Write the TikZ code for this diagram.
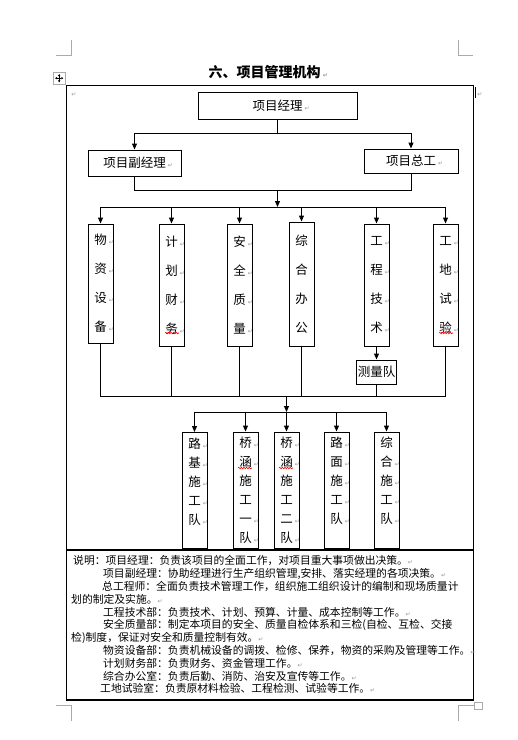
\documentclass[tikz,border=0pt]{standalone}
\usepackage{fontspec}
\setmainfont{Noto Sans CJK SC}
\newfontfamily\dejavu{DejaVu Sans}
\usepackage{xcolor}
\usepackage{tikz}
\usetikzlibrary{arrows.meta,decorations.pathmorphing}
\definecolor{markgray}{RGB}{150,150,150}
\definecolor{cropgray}{RGB}{170,170,170}
\newcommand{\pmark}{{\dejavu\fontsize{6}{6}\selectfont\color{markgray}↵}}
\newcommand{\rmark}{\rlap{\,\pmark}}

\begin{document}
\begin{tikzpicture}[x=1pt, y=-1pt,
  box/.style={draw, line width=1pt, align=center, inner sep=0pt, font=\fontsize{12.5}{14}\selectfont},
  tallbox/.style={box, minimum width=25pt, minimum height=122pt, font=\fontsize{12.5}{29}\selectfont},
  lowbox/.style={box, minimum width=25pt, minimum height=116pt, font=\fontsize{12.5}{19}\selectfont},
  line/.style={line width=1pt},
  arr/.style={-{Triangle[length=6pt,width=5pt]}, line width=1pt},
  crop/.style={cropgray, line width=1pt},
  squiggle/.style={red, line width=0.6pt, decorate, decoration={snake, amplitude=0.8pt, segment length=2.6pt}}]
\useasboundingbox (0,0) rectangle (518,740);
% page corner marks and table handle
\draw[crop] (56,55) -- (71.7,55) -- (71.7,40);
\draw[crop] (458.7,40) -- (458.7,55) -- (473,55);
\draw[crop] (474,705) -- (458.7,705) -- (458.7,720.7);
\draw[crop] (56,705.7) -- (71.7,705.7) -- (71.7,720.7);
\draw[cropgray, line width=0.8pt] (474,702) rectangle (482,709);
\draw[cropgray, line width=0.8pt] (53.3,72.3) rectangle (65,84);
\draw[{Triangle[length=2pt,width=2.2pt]}-{Triangle[length=2pt,width=2.2pt]}, line width=0.6pt] (55,78.2) -- (63.3,78.2);
\draw[{Triangle[length=2pt,width=2.2pt]}-{Triangle[length=2pt,width=2.2pt]}, line width=0.6pt] (59.2,74) -- (59.2,82.4);
% title
\node[font=\fontsize{14}{16}\bfseries\selectfont] (title) at (264.5,72) {六、项目管理机构\rmark};
% frame
\draw[line width=1.3pt] (66.3,85.7) rectangle (473.3,700);
\draw[line width=1.3pt] (66.3,550) -- (473.3,550);
\draw[line width=1pt] (475.5,87) -- (475.5,98);
\node[inner sep=0pt] (rowmark) at (480,95) {\pmark};
\node[inner sep=0pt] (cellmark) at (74,95) {\pmark};

% management
\node[box, minimum width=159pt, minimum height=27pt] (pm) at (277.5,105.5) {项目经理\rmark};
\node[box, minimum width=93pt, minimum height=26pt] (depm) at (134.5,163) {项目副经理\rmark};
\node[box, minimum width=94pt, minimum height=24pt] (chief) at (411,161) {项目总工\rmark};

% departments
\node[tallbox, minimum height=119pt] (d1) at (100.5,283.5) {物\rmark\\资\rmark\\设\rmark\\备\rmark};
\node[tallbox] (d2) at (171.5,285) {计\rmark\\划\rmark\\财\rmark\\务\rmark};
\node[tallbox] (d3) at (239.5,285) {安\rmark\\全\rmark\\质\rmark\\量\rmark};
\node[tallbox, minimum height=124pt] (d4) at (301.5,284) {综\\合\\办\\公};
\node[tallbox] (d5) at (376.5,285) {工\rmark\\程\rmark\\技\rmark\\术\rmark};
\node[tallbox] (d6) at (445.5,285) {工\rmark\\地\rmark\\试\rmark\\验\rmark};
\node[box, minimum width=40pt, minimum height=24pt] (survey) at (376.5,372) {测量队};

% site teams
\node[lowbox] (t1) at (194.5,490.5) {路\rmark\\基\rmark\\施\rmark\\工\rmark\\队\rmark\\\mbox{}};
\node[lowbox] (t2) at (245.5,490) {桥\rmark\\涵\rmark\\施\\工\\一\rmark\\队\rmark};
\node[lowbox] (t3) at (286.5,490) {桥\rmark\\涵\rmark\\施\\工\\二\rmark\\队\rmark};
\node[lowbox] (t4) at (336.5,490) {路\rmark\\面\rmark\\施\rmark\\工\rmark\\队\rmark\\\mbox{}};
\node[lowbox] (t5) at (386.5,490) {综\\合\rmark\\施\rmark\\工\rmark\\队\rmark\\\mbox{}};

% spelling marks
\draw[squiggle] (165,333) -- (179,333);
\draw[squiggle] (439,333) -- (453,333);
\draw[squiggle] (238,468) -- (252,468);
\draw[squiggle] (279,468) -- (293,468);

% bus points
\coordinate (bus1) at (277.5,133);
\coordinate (bus2) at (277.5,190);
\coordinate (bus3) at (277.5,207);
\coordinate (bus4) at (286.5,396);
\coordinate (bus5) at (286.5,412);

% connectors
\draw[line] (pm) -- (bus1);
\draw[line] (depm |- bus1) -- (chief |- bus1);
\draw[arr] (depm |- bus1) -- (depm);
\draw[arr] (chief |- bus1) -- (chief);
\draw[line] (depm) -- (depm |- bus2) -- (chief |- bus2) -- (chief);
\draw[arr] (bus2) -- (bus3);
\draw[line] (d1 |- bus3) -- (d6 |- bus3);
\draw[arr] (d1 |- bus3) -- (d1);
\draw[arr] (d2 |- bus3) -- (d2);
\draw[arr] (d3 |- bus3) -- (d3);
\draw[arr] (d4 |- bus3) -- (d4);
\draw[arr] (d5 |- bus3) -- (d5);
\draw[arr] (d6 |- bus3) -- (d6);
\draw[arr] (d5) -- (survey);
\draw[line] (d1) -- (d1 |- bus4) -- (d6 |- bus4) -- (d6);
\draw[line] (d2) -- (d2 |- bus4);
\draw[line] (d3) -- (d3 |- bus4);
\draw[line] (d4) -- (d4 |- bus4);
\draw[line] (survey) -- (survey |- bus4);
\draw[arr] (bus4) -- (bus5);
\draw[line] (t1 |- bus5) -- (t5 |- bus5);
\draw[arr] (t1 |- bus5) -- (t1);
\draw[arr] (t2 |- bus5) -- (t2);
\draw[arr] (t3 |- bus5) -- (t3);
\draw[arr] (t4 |- bus5) -- (t4);
\draw[arr] (t5 |- bus5) -- (t5);

% notes
\node[anchor=north west, align=left, inner sep=0pt, font=\fontsize{10.8}{12.8}\selectfont] (note) at (71,555.5) {%
\hspace*{2pt}说明：项目经理：负责该项目的全面工作，对项目重大事项做出决策。\pmark\\
\hspace*{32pt}项目副经理：协助经理进行生产组织管理,安排、落实经理的各项决策。\pmark\\
\hspace*{31pt}总工程师：全面负责技术管理工作，组织施工组织设计的编制和现场质量计\\
划的制定及实施。\pmark\\
\hspace*{32pt}工程技术部：负责技术、计划、预算、计量、成本控制等工作。\pmark\\
\hspace*{32pt}安全质量部：制定本项目的安全、质量自检体系和三检(自检、互检、交接\\
检)制度，保证对安全和质量控制有效。\pmark\\
\hspace*{32pt}物资设备部：负责机械设备的调拨、检修、保养，物资的采购及管理等工作。\pmark\\
\hspace*{32pt}计划财务部：负责财务、资金管理工作。\pmark\\
\hspace*{32pt}综合办公室：负责后勤、消防、治安及宣传等工作。\pmark\\
\hspace*{29pt}工地试验室：负责原材料检验、工程检测、试验等工作。\pmark};
\end{tikzpicture}
\end{document}
